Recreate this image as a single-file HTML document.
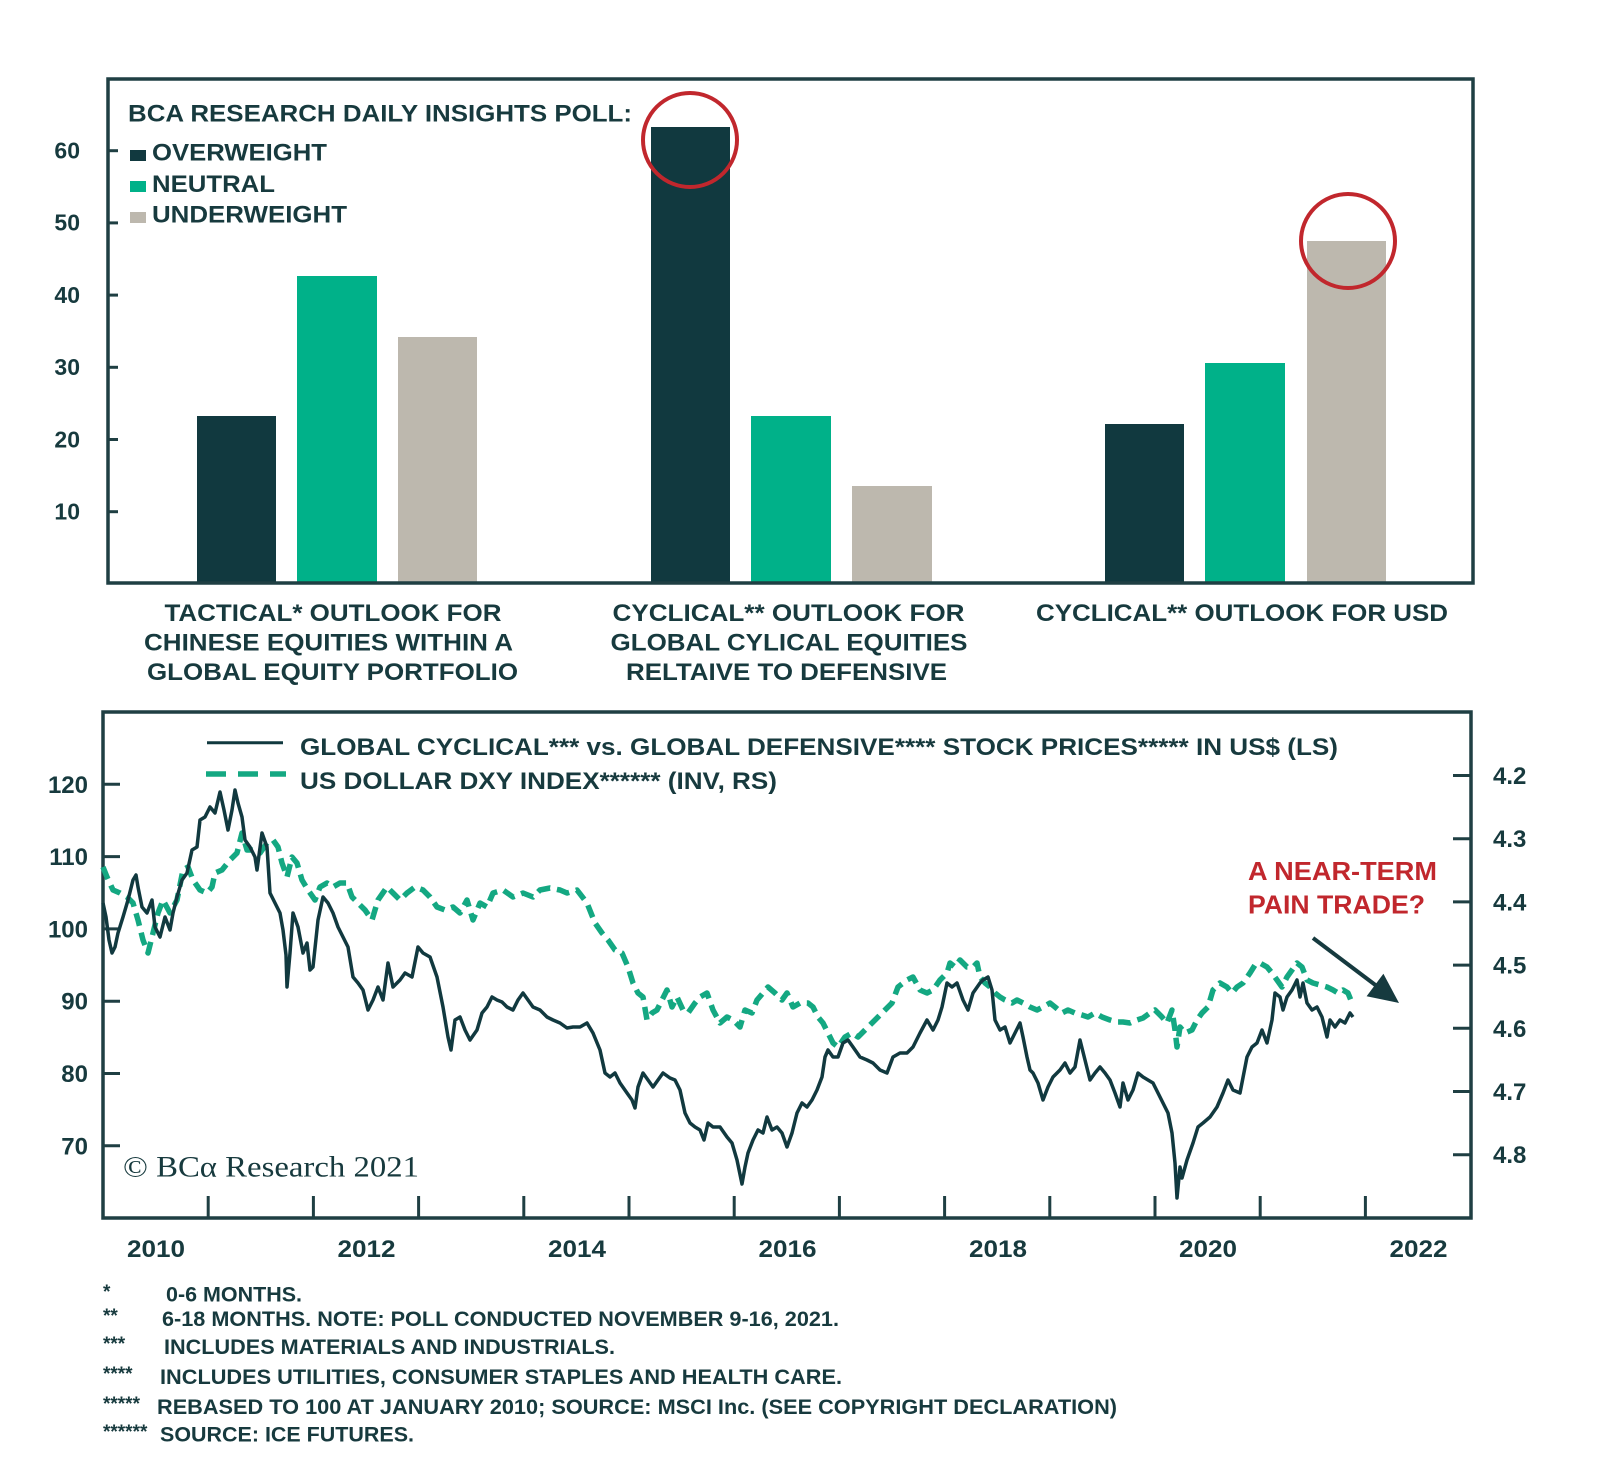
<!DOCTYPE html>
<html><head><meta charset="utf-8"><style>
html,body{margin:0;padding:0;background:#fff;}
svg{display:block;}
.t{font-family:"Liberation Sans",Arial,sans-serif;font-weight:bold;fill:#173a3e;}
.fn{font-family:"Liberation Sans",Arial,sans-serif;font-weight:bold;fill:#173a3e;font-size:21px;}
.ast{font-family:"Liberation Sans",Arial,sans-serif;font-weight:bold;fill:#173a3e;font-size:19px;}
</style></head><body>
<svg width="1600" height="1474" viewBox="0 0 1600 1474" xmlns="http://www.w3.org/2000/svg">
<rect width="1600" height="1474" fill="#fff"/>

<!-- ===== TOP BAR CHART ===== -->
<g fill="#11393f">
<rect x="197" y="416" width="79" height="166"/>
<rect x="651" y="127" width="79" height="455"/>
<rect x="1105" y="424" width="79" height="158"/>
</g>
<g fill="#00b189">
<rect x="297" y="276" width="80" height="306"/>
<rect x="751" y="416" width="80" height="166"/>
<rect x="1205" y="363" width="80" height="219"/>
</g>
<g fill="#bdb8ae">
<rect x="398" y="337" width="79" height="245"/>
<rect x="852" y="486" width="80" height="96"/>
<rect x="1307" y="241" width="79" height="341"/>
</g>
<rect x="108" y="79" width="1365" height="504" fill="none" stroke="#1f3f43" stroke-width="3.5"/>
<g stroke="#1f3f43" stroke-width="3">
<line x1="108" y1="150.7" x2="118" y2="150.7"/>
<line x1="108" y1="222.9" x2="118" y2="222.9"/>
<line x1="108" y1="295.1" x2="118" y2="295.1"/>
<line x1="108" y1="367.3" x2="118" y2="367.3"/>
<line x1="108" y1="439.5" x2="118" y2="439.5"/>
<line x1="108" y1="511.7" x2="118" y2="511.7"/>
</g>
<g class="t" font-size="23" text-anchor="end">
<text x="80" y="158.5">60</text>
<text x="80" y="230.7">50</text>
<text x="80" y="302.9">40</text>
<text x="80" y="375.1">30</text>
<text x="80" y="447.3">20</text>
<text x="80" y="519.5">10</text>
</g>
<circle cx="690" cy="140" r="47" fill="none" stroke="#c1272d" stroke-width="4"/>
<circle cx="1348" cy="241" r="47" fill="none" stroke="#c1272d" stroke-width="4"/>

<text class="t" x="128" y="121.7" font-size="24" textLength="504" lengthAdjust="spacingAndGlyphs">BCA RESEARCH DAILY INSIGHTS POLL:</text>
<rect x="130" y="150" width="16" height="11" fill="#11393f"/>
<rect x="130" y="181" width="16" height="11" fill="#00b189"/>
<rect x="130" y="212" width="16" height="11" fill="#bdb8ae"/>
<text class="t" x="152" y="160.7" font-size="24" textLength="175" lengthAdjust="spacingAndGlyphs">OVERWEIGHT</text>
<text class="t" x="152" y="192.2" font-size="24" textLength="123" lengthAdjust="spacingAndGlyphs">NEUTRAL</text>
<text class="t" x="152" y="222.7" font-size="24" textLength="195" lengthAdjust="spacingAndGlyphs">UNDERWEIGHT</text>

<g class="t" font-size="24" text-anchor="middle">
<text x="333" y="621" textLength="337" lengthAdjust="spacingAndGlyphs">TACTICAL* OUTLOOK FOR</text>
<text x="328.5" y="650.5" textLength="369" lengthAdjust="spacingAndGlyphs">CHINESE EQUITIES WITHIN A</text>
<text x="332.5" y="680" textLength="371" lengthAdjust="spacingAndGlyphs">GLOBAL EQUITY PORTFOLIO</text>
<text x="788.5" y="621" textLength="352" lengthAdjust="spacingAndGlyphs">CYCLICAL** OUTLOOK FOR</text>
<text x="789" y="650.5" textLength="357" lengthAdjust="spacingAndGlyphs">GLOBAL CYLICAL EQUITIES</text>
<text x="786.5" y="680" textLength="321" lengthAdjust="spacingAndGlyphs">RELTAIVE TO DEFENSIVE</text>
<text x="1242" y="621" textLength="412" lengthAdjust="spacingAndGlyphs">CYCLICAL** OUTLOOK FOR USD</text>
</g>

<!-- ===== BOTTOM LINE CHART ===== -->
<rect x="103" y="712" width="1368" height="506" fill="none" stroke="#1f3f43" stroke-width="3.5"/>
<g stroke="#1f3f43" stroke-width="3">
<line x1="103" y1="784.3" x2="120" y2="784.3"/>
<line x1="103" y1="856.6" x2="120" y2="856.6"/>
<line x1="103" y1="928.9" x2="120" y2="928.9"/>
<line x1="103" y1="1001.2" x2="120" y2="1001.2"/>
<line x1="103" y1="1073.5" x2="120" y2="1073.5"/>
<line x1="103" y1="1145.8" x2="120" y2="1145.8"/>
<line x1="1453" y1="775.5" x2="1471" y2="775.5"/>
<line x1="1453" y1="838.7" x2="1471" y2="838.7"/>
<line x1="1453" y1="901.9" x2="1471" y2="901.9"/>
<line x1="1453" y1="965.1" x2="1471" y2="965.1"/>
<line x1="1453" y1="1028.3" x2="1471" y2="1028.3"/>
<line x1="1453" y1="1091.5" x2="1471" y2="1091.5"/>
<line x1="1453" y1="1154.7" x2="1471" y2="1154.7"/>
<line x1="208.2" y1="1196" x2="208.2" y2="1218"/>
<line x1="313.4" y1="1196" x2="313.4" y2="1218"/>
<line x1="418.6" y1="1196" x2="418.6" y2="1218"/>
<line x1="523.8" y1="1196" x2="523.8" y2="1218"/>
<line x1="629" y1="1196" x2="629" y2="1218"/>
<line x1="734.2" y1="1196" x2="734.2" y2="1218"/>
<line x1="839.4" y1="1196" x2="839.4" y2="1218"/>
<line x1="944.6" y1="1196" x2="944.6" y2="1218"/>
<line x1="1049.8" y1="1196" x2="1049.8" y2="1218"/>
<line x1="1155" y1="1196" x2="1155" y2="1218"/>
<line x1="1260.2" y1="1196" x2="1260.2" y2="1218"/>
<line x1="1365.4" y1="1196" x2="1365.4" y2="1218"/>
</g>
<g class="t" font-size="24" text-anchor="end">
<text x="88" y="792.8">120</text>
<text x="88" y="865.1">110</text>
<text x="88" y="937.4">100</text>
<text x="88" y="1009.7">90</text>
<text x="88" y="1082">80</text>
<text x="88" y="1154.3">70</text>
</g>
<g class="t" font-size="24">
<text x="1493" y="784">4.2</text>
<text x="1493" y="847.2">4.3</text>
<text x="1493" y="910.4">4.4</text>
<text x="1493" y="973.6">4.5</text>
<text x="1493" y="1036.8">4.6</text>
<text x="1493" y="1100">4.7</text>
<text x="1493" y="1163.2">4.8</text>
</g>
<g class="t" font-size="24" text-anchor="middle">
<text x="156" y="1257" textLength="58" lengthAdjust="spacingAndGlyphs">2010</text>
<text x="366.5" y="1257" textLength="58" lengthAdjust="spacingAndGlyphs">2012</text>
<text x="577" y="1257" textLength="58" lengthAdjust="spacingAndGlyphs">2014</text>
<text x="787.5" y="1257" textLength="58" lengthAdjust="spacingAndGlyphs">2016</text>
<text x="998" y="1257" textLength="58" lengthAdjust="spacingAndGlyphs">2018</text>
<text x="1208" y="1257" textLength="58" lengthAdjust="spacingAndGlyphs">2020</text>
<text x="1418.5" y="1257" textLength="58" lengthAdjust="spacingAndGlyphs">2022</text>
</g>

<!-- DXY dashed series -->
<polyline fill="none" stroke="#14a882" stroke-width="5.5" stroke-dasharray="13 7" stroke-linejoin="round" points="103,867 107,877 113,890 120,893 127,897 133,903 138,920 143,940 148,953 153,933 158,913 163,900 170,913 177,900 183,870 188,867 193,880 200,890 207,893 212,887 215,873 222,870 230,860 237,853 242,833 247,850 253,850 260,853 267,843 273,840 278,847 282,863 287,877 292,857 297,863 302,880 308,890 315,900 320,887 327,883 333,887 340,883 347,883 352,897 358,903 365,910 372,920 378,900 387,887 393,893 400,900 407,893 415,887 423,890 430,897 437,907 445,910 453,907 460,913 467,900 473,920 480,903 487,907 493,893 503,890 513,897 523,893 533,897 540,890 550,888 560,890 567,893 577,890 587,903 595,923 602,933 608,940 615,950 622,953 628,967 633,983 638,993 643,997 647,1020 652,1013 657,1010 662,1000 667,990 672,1007 677,997 683,1010 688,1013 695,1003 700,997 707,993 713,1010 720,1023 727,1017 733,1020 740,1027 745,1010 752,1013 757,1000 763,993 768,987 775,993 782,1000 787,993 793,1007 800,1003 808,1003 813,1007 818,1017 823,1023 828,1033 833,1043 838,1047 845,1037 852,1033 858,1037 865,1030 872,1023 878,1017 885,1010 892,1003 898,987 907,980 913,977 920,990 927,993 933,990 940,980 947,973 950,963 955,967 960,960 967,967 973,967 977,963 980,977 985,983 990,987 995,993 1000,997 1005,1000 1012,1003 1017,1000 1023,1003 1030,1007 1037,1010 1043,1007 1050,1003 1055,1007 1062,1013 1068,1010 1075,1013 1082,1015 1088,1017 1095,1013 1102,1017 1110,1020 1117,1022 1123,1022 1130,1023 1137,1020 1143,1018 1150,1013 1155,1010 1162,1017 1167,1023 1172,1010 1175,1030 1177,1047 1180,1027 1185,1033 1192,1030 1197,1020 1202,1013 1208,1007 1213,990 1220,983 1227,987 1232,993 1237,987 1243,983 1250,973 1255,965 1260,963 1267,967 1272,973 1277,980 1282,987 1287,977 1292,970 1297,963 1302,967 1307,980 1313,983 1320,985 1327,987 1333,990 1338,993 1343,990 1348,993 1352,1003"/>

<!-- Cyclical vs defensive solid series -->
<polyline fill="none" stroke="#11393f" stroke-width="3.5" stroke-linejoin="round" points="103,903 106,917 109,940 112,953 115,947 118,933 123,917 128,900 133,880 136,875 138,887 142,907 147,913 152,900 155,927 160,937 165,917 170,930 173,913 177,897 182,880 187,873 192,850 197,847 200,820 205,817 210,807 215,813 220,792 224,810 228,830 232,810 235,790 238,803 242,817 245,840 250,847 255,857 257,870 262,833 267,847 270,893 275,903 280,913 283,930 286,955 287,987 290,953 293,913 298,927 303,953 307,943 310,970 313,967 318,920 323,897 328,903 333,913 338,927 343,937 348,947 353,977 358,983 363,990 368,1010 373,1000 378,987 383,1000 388,963 393,987 400,980 405,973 412,977 418,947 423,953 430,957 437,977 443,1007 448,1037 451,1050 455,1020 460,1017 465,1030 470,1040 477,1030 482,1013 487,1007 492,997 497,1000 502,1002 507,1007 513,1010 518,1000 523,993 528,1000 533,1007 540,1010 547,1017 553,1020 560,1023 567,1028 573,1027 580,1027 587,1023 593,1033 600,1050 605,1073 610,1077 615,1073 620,1083 627,1093 632,1100 635,1108 638,1087 643,1073 648,1080 653,1087 658,1080 663,1073 670,1078 675,1080 680,1090 685,1113 690,1123 695,1127 700,1130 704,1140 708,1123 713,1127 720,1127 727,1137 732,1143 737,1160 742,1184 745,1167 748,1153 753,1140 758,1130 763,1133 767,1117 772,1130 777,1127 782,1133 787,1147 792,1133 797,1113 802,1103 807,1107 812,1100 817,1090 822,1077 825,1057 828,1050 833,1057 838,1057 843,1043 848,1040 853,1047 860,1057 867,1060 873,1063 880,1070 887,1073 893,1057 900,1053 907,1053 913,1047 920,1033 927,1020 933,1030 938,1020 942,1007 947,983 952,987 957,983 963,1000 968,1010 973,993 980,983 983,980 988,977 992,990 995,1020 1000,1030 1005,1027 1010,1043 1015,1033 1020,1023 1023,1037 1027,1057 1030,1070 1033,1073 1038,1083 1043,1100 1048,1087 1053,1077 1060,1070 1065,1063 1070,1073 1075,1067 1080,1040 1085,1060 1090,1080 1095,1073 1100,1067 1105,1073 1110,1080 1115,1093 1120,1107 1123,1083 1128,1100 1133,1090 1138,1073 1143,1077 1148,1080 1153,1083 1158,1093 1163,1103 1168,1113 1172,1133 1175,1163 1177,1198 1180,1167 1182,1178 1187,1160 1193,1143 1198,1127 1203,1123 1210,1117 1217,1107 1223,1093 1228,1080 1233,1090 1240,1093 1247,1057 1252,1047 1257,1043 1262,1030 1267,1043 1272,1020 1275,993 1280,997 1283,1010 1287,997 1292,990 1297,980 1300,997 1303,983 1307,1003 1312,1010 1317,1007 1322,1017 1327,1037 1330,1020 1335,1027 1340,1020 1345,1023 1350,1013 1353,1017"/>

<!-- legend -->
<line x1="207" y1="742.7" x2="283" y2="742.7" stroke="#11393f" stroke-width="3"/>
<line x1="206" y1="774" x2="286" y2="774" stroke="#14a882" stroke-width="5.5" stroke-dasharray="20 12"/>
<text class="t" x="300" y="755" font-size="24" textLength="1038" lengthAdjust="spacingAndGlyphs">GLOBAL CYCLICAL*** vs. GLOBAL DEFENSIVE**** STOCK PRICES***** IN US$ (LS)</text>
<text class="t" x="300" y="789" font-size="24" textLength="477" lengthAdjust="spacingAndGlyphs">US DOLLAR DXY INDEX****** (INV, RS)</text>

<!-- annotation -->
<g font-family="Liberation Sans, Arial, sans-serif" font-weight="bold" fill="#c1272d" font-size="26">
<text x="1248" y="880" textLength="189" lengthAdjust="spacingAndGlyphs">A NEAR-TERM</text>
<text x="1248" y="913.3" textLength="177" lengthAdjust="spacingAndGlyphs">PAIN TRADE?</text>
</g>
<line x1="1313" y1="938" x2="1380" y2="988.5" stroke="#163a3f" stroke-width="4"/>
<polygon points="1399,1003 1366.6,996.2 1383.4,973.8" fill="#163a3f"/>

<!-- copyright -->
<text x="123" y="1176.7" font-family="Liberation Serif, Times New Roman, serif" font-size="30" fill="#173a3e" textLength="296" lengthAdjust="spacingAndGlyphs">© BCα Research 2021</text>

<!-- footnotes -->
<text class="ast" x="103" y="1298">*</text>
<text class="ast" x="103" y="1322">**</text>
<text class="ast" x="103" y="1350">***</text>
<text class="ast" x="103" y="1380">****</text>
<text class="ast" x="103" y="1410">*****</text>
<text class="ast" x="103" y="1438">******</text>
<text class="fn" x="166" y="1301.7" textLength="136" lengthAdjust="spacingAndGlyphs">0-6 MONTHS.</text>
<text class="fn" x="162" y="1326" textLength="677" lengthAdjust="spacingAndGlyphs">6-18 MONTHS. NOTE: POLL CONDUCTED NOVEMBER 9-16, 2021.</text>
<text class="fn" x="164" y="1354" textLength="451" lengthAdjust="spacingAndGlyphs">INCLUDES MATERIALS AND INDUSTRIALS.</text>
<text class="fn" x="160" y="1384" textLength="682" lengthAdjust="spacingAndGlyphs">INCLUDES UTILITIES, CONSUMER STAPLES AND HEALTH CARE.</text>
<text class="fn" x="157" y="1414" textLength="960" lengthAdjust="spacingAndGlyphs">REBASED TO 100 AT JANUARY 2010; SOURCE: MSCI Inc. (SEE COPYRIGHT DECLARATION)</text>
<text class="fn" x="160" y="1441.7" textLength="254" lengthAdjust="spacingAndGlyphs">SOURCE: ICE FUTURES.</text>
</svg>
</body></html>
